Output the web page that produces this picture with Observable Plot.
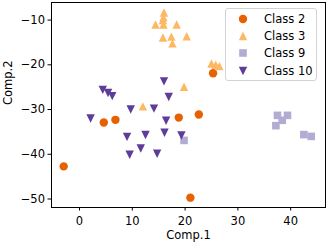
<!DOCTYPE html>
<html><head><meta charset="utf-8">
<script src="https://cdn.jsdelivr.net/npm/d3@7"></script>
<script src="https://cdn.jsdelivr.net/npm/@observablehq/plot@0.6"></script>
<style>
body{margin:0;background:#fff;font-family:"DejaVu Sans",sans-serif;}
#wrap{position:relative;width:327px;height:244px;}
#legend{position:absolute;left:225px;top:8px;width:92px;height:73px;box-sizing:border-box;border:1px solid #d3d3d3;border-radius:3px;background:rgba(255,255,255,0.8);font-size:11.5px;color:#000;}
#legend .row{position:absolute;left:0;height:16px;display:flex;align-items:center;white-space:nowrap;}
#legend svg{display:block;}
</style></head><body><div id="wrap"></div><script>
// ---- data ----
const classes = ["Class 2", "Class 3", "Class 9", "Class 10"];
const colors = ["#e66101", "#fdb863", "#b2abd2", "#5e3c99"];

const class2X = [-3.0, 4.6, 6.8, 18.8, 22.6, 25.3, 21.0];
const class2Y = [-42.7, -32.9, -32.3, -31.8, -31.1, -21.9, -49.7];

const class3X = [16.0, 15.9, 15.8, 14.4, 15.9, 18.4, 15.8, 17.4, 17.6, 20.3, 25.0, 25.8, 26.5, 12.0, 19.8];
const class3Y = [-8.3, -9.4, -10.0, -11.0, -11.0, -11.0, -13.9, -13.7, -15.2, -13.6, -19.7, -20.0, -20.3, -29.3, -24.9];

const class9X = [19.8, 37.5, 39.4, 38.4, 37.2, 42.5, 43.9];
const class9Y = [-36.9, -31.3, -31.3, -32.4, -33.6, -35.6, -36.0];

const class10X = [4.4, 5.4, 6.2, 2.1, 9.7, 14.1, 16.0, 16.9, 16.4, 9.0, 12.5, 11.6, 9.5, 14.7, 16.1, 19.3];
const class10Y = [-25.6, -26.3, -27.0, -32.0, -30.0, -29.8, -23.7, -27.2, -32.5, -36.1, -35.7, -38.7, -40.1, -39.9, -35.2, -35.8];

const xTicks = [0, 10, 20, 30, 40];
const yTicks = [-50, -40, -30, -20, -10];
const xLabel = "Comp.1";
const yLabel = "Comp.2";

// ---- marker shapes (matplotlib o, ^, s, v) ----
const shapes = [
  {draw(c){ const r = 4.2; c.moveTo(r, 0); c.arc(0, 0, r, 0, 2 * Math.PI); c.closePath(); }},
  {draw(c){ const h = 4.2; c.moveTo(0, -h); c.lineTo(h, h); c.lineTo(-h, h); c.closePath(); }},
  {draw(c){ const h = 3.8; c.moveTo(-h, -h); c.lineTo(h, -h); c.lineTo(h, h); c.lineTo(-h, h); c.closePath(); }},
  {draw(c){ const h = 4.2; c.moveTo(0, h); c.lineTo(h, -h); c.lineTo(-h, -h); c.closePath(); }}
];

const series = [[class2X, class2Y], [class3X, class3Y], [class9X, class9Y], [class10X, class10Y]];
const tables = series.map(([xs, ys], i) => xs.map((x, j) => ({x, y: ys[j], cls: classes[i]})));

const fmt = d => d < 0 ? "\u2212" + Math.abs(d) : String(d);

const chart = Plot.plot({
  width: 327, height: 244,
  marginLeft: 51, marginRight: 2, marginTop: 2, marginBottom: 37,
  style: {fontFamily: "'DejaVu Sans', sans-serif", fontSize: "11.5px", color: "#000", background: "#fff", overflow: "visible"},
  x: {domain: [-5.31, 46.6], ticks: xTicks, tickSize: 3.5, tickPadding: 6, tickFormat: fmt, label: null},
  y: {domain: [-51.9, -6.07], ticks: yTicks, tickSize: 3.5, tickPadding: 3, tickFormat: fmt, label: null},
  marks: [
    ...tables.map((t, i) => Plot.dot(t, {x: "x", y: "y", symbol: shapes[i], fill: colors[i], stroke: "none", r: 4})),
    Plot.frame({stroke: "#000", strokeWidth: 1}),
    Plot.text([xLabel], {text: d => d, frameAnchor: "bottom", dy: 31, fontSize: 11.5}),
    Plot.text([yLabel], {text: d => d, frameAnchor: "left", dx: -43, rotate: -90, fontSize: 11.5})
  ]
});
const wrap = document.getElementById("wrap");
wrap.appendChild(chart);

// ---- legend ----
const legend = document.createElement("div");
legend.id = "legend";
classes.forEach((name, i) => {
  const row = document.createElement("div");
  row.className = "row";
  row.style.top = (1.5 + i * 17.4) + "px";
  const p = d3.path();
  shapes[i].draw(p);
  row.innerHTML = `<svg width="37" height="16"><path transform="translate(17,8)" d="${p.toString()}" fill="${colors[i]}"/></svg><span style="margin-left:1px">${name}</span>`;
  legend.appendChild(row);
});
wrap.appendChild(legend);
</script></body></html>
